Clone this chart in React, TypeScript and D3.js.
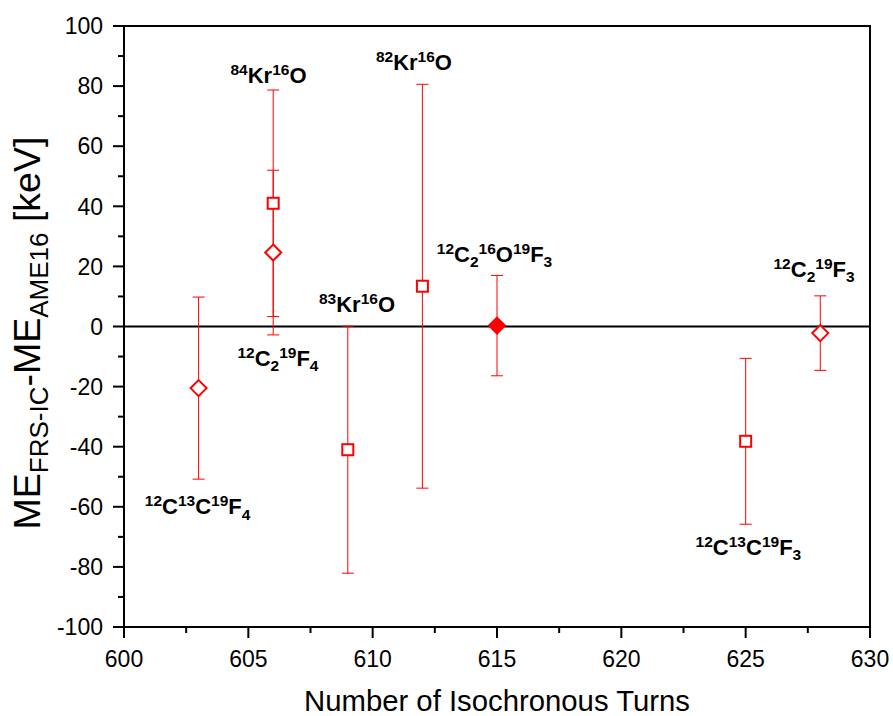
import React from "react";
import * as d3 from "d3";

const turns = [603, 606, 606, 609, 612, 615, 625, 628];
const values = [-20.5, 41.0, 24.6, -41.0, 13.4, 0.3, -38.2, -2.2];
const errors = [30.3, 37.7, 27.4, 41.1, 67.2, 16.7, 27.6, 12.4];
const shapes = ["diamond", "square", "diamond", "square", "square", "diamondFilled", "square", "diamond"];

type Seg = { t: string; s: "n" | "sup" | "sub" };
const labelTexts: Seg[][] = [
  [{ t: "84", s: "sup" }, { t: "Kr", s: "n" }, { t: "16", s: "sup" }, { t: "O", s: "n" }],
  [{ t: "82", s: "sup" }, { t: "Kr", s: "n" }, { t: "16", s: "sup" }, { t: "O", s: "n" }],
  [{ t: "83", s: "sup" }, { t: "Kr", s: "n" }, { t: "16", s: "sup" }, { t: "O", s: "n" }],
  [{ t: "12", s: "sup" }, { t: "C", s: "n" }, { t: "2", s: "sub" }, { t: "19", s: "sup" }, { t: "F", s: "n" }, { t: "4", s: "sub" }],
  [{ t: "12", s: "sup" }, { t: "C", s: "n" }, { t: "2", s: "sub" }, { t: "16", s: "sup" }, { t: "O", s: "n" }, { t: "19", s: "sup" }, { t: "F", s: "n" }, { t: "3", s: "sub" }],
  [{ t: "12", s: "sup" }, { t: "C", s: "n" }, { t: "2", s: "sub" }, { t: "19", s: "sup" }, { t: "F", s: "n" }, { t: "3", s: "sub" }],
  [{ t: "12", s: "sup" }, { t: "C", s: "n" }, { t: "13", s: "sup" }, { t: "C", s: "n" }, { t: "19", s: "sup" }, { t: "F", s: "n" }, { t: "3", s: "sub" }],
  [{ t: "12", s: "sup" }, { t: "C", s: "n" }, { t: "13", s: "sup" }, { t: "C", s: "n" }, { t: "19", s: "sup" }, { t: "F", s: "n" }, { t: "4", s: "sub" }],
];
const labelX = [605.81, 611.66, 609.37, 606.19, 614.9, 627.75, 625.11, 602.96];
const labelY = [81.0, 85.4, 4.9, -13.1, 21.6, 16.6, -76.0, -62.4];

const xTicks = [600, 605, 610, 615, 620, 625, 630];
const yTicks = [-100, -80, -60, -40, -20, 0, 20, 40, 60, 80, 100];

const W = 893;
const H = 716;
const FONT = "'Liberation Sans', Arial, Helvetica, sans-serif";
const RED = "#ff0000";

function Rich({ segs, x, y, size, small, supShift, subShift, anchor, weight, transform }: any) {
  let cur = 0;
  return (
    <text x={x} y={y} textAnchor={anchor} fontFamily={FONT} fontWeight={weight} fontSize={size} fill="#000" transform={transform}>
      {segs.map((sg: Seg, i: number) => {
        const target = sg.s === "sup" ? supShift : sg.s === "sub" ? subShift : 0;
        const dy = target - cur;
        cur = target;
        return (
          <tspan key={i} dy={dy} fontSize={sg.s === "n" ? size : small}>
            {sg.t}
          </tspan>
        );
      })}
    </text>
  );
}

export default function App() {
  const x = d3.scaleLinear().domain([600, 630]).range([124, 870]);
  const y = d3.scaleLinear().domain([-100, 100]).range([627, 26]);
  const xMinor = d3.range(600, 630.01, 2.5);
  const yMinor = d3.range(-100, 100.01, 10);
  const cap = 6;

  return (
    <svg width={W} height={H} style={{ position: "absolute", left: 0, top: 0, background: "#fff" }}>
      <rect x={0} y={0} width={W} height={H} fill="#fff" />
      {/* zero line */}
      <line x1={x(600)} x2={x(630)} y1={y(0)} y2={y(0)} stroke="#000" strokeWidth={2} />

      {/* error bars */}
      {turns.map((t, i) => {
        const cx = x(t);
        const y1 = y(values[i] + errors[i]);
        const y2 = y(values[i] - errors[i]);
        return (
          <g key={"e" + i} stroke={RED} strokeWidth={1}>
            <line x1={cx} x2={cx} y1={y1} y2={y2} />
            <line x1={cx - cap} x2={cx + cap} y1={y1} y2={y1} />
            <line x1={cx - cap} x2={cx + cap} y1={y2} y2={y2} />
          </g>
        );
      })}

      {/* markers */}
      {turns.map((t, i) => {
        const cx = x(t);
        const cy = y(values[i]);
        const sh = shapes[i];
        if (sh === "square") {
          return <rect key={"m" + i} x={cx - 5.5} y={cy - 5.5} width={11} height={11} fill="#fff" stroke={RED} strokeWidth={2} />;
        }
        const r = 8;
        const d = `M${cx},${cy - r}L${cx + r},${cy}L${cx},${cy + r}L${cx - r},${cy}Z`;
        return <path key={"m" + i} d={d} fill={sh === "diamondFilled" ? RED : "#fff"} stroke={RED} strokeWidth={2} />;
      })}

      {/* frame */}
      <rect x={x(600)} y={y(100)} width={x(630) - x(600)} height={y(-100) - y(100)} fill="none" stroke="#000" strokeWidth={2} />

      {/* y ticks */}
      {yMinor.map((v, i) => {
        const major = Math.abs(v % 20) < 1e-6;
        return <line key={"ym" + i} x1={x(600)} x2={x(600) - (major ? 11 : 6)} y1={y(v)} y2={y(v)} stroke="#000" strokeWidth={2} />;
      })}
      {yTicks.map((v) => (
        <text key={"yt" + v} x={103} y={y(v)} dy="0.36em" textAnchor="end" fontFamily={FONT} fontSize={23} fill="#000">
          {v}
        </text>
      ))}

      {/* x ticks */}
      {xMinor.map((v, i) => {
        const major = Math.abs(v % 5) < 1e-6;
        return <line key={"xm" + i} x1={x(v)} x2={x(v)} y1={y(-100)} y2={y(-100) + (major ? 11 : 6)} stroke="#000" strokeWidth={2} />;
      })}
      {xTicks.map((v) => (
        <text key={"xt" + v} x={x(v)} y={667} textAnchor="middle" fontFamily={FONT} fontSize={23} fill="#000">
          {v}
        </text>
      ))}

      {/* axis titles */}
      <text x={(x(600) + x(630)) / 2} y={711} textAnchor="middle" fontFamily={FONT} fontSize={29.3} fill="#000">
        Number of Isochronous Turns
      </text>
      <Rich
        segs={[
          { t: "ME", s: "n" },
          { t: "FRS-IC", s: "sub" },
          { t: "-ME", s: "n" },
          { t: "AME16", s: "sub" },
          { t: " [keV]", s: "n" },
        ]}
        x={0}
        y={0}
        size={37.5}
        small={26}
        supShift={-12}
        subShift={8}
        anchor="middle"
        weight="normal"
        transform={`translate(40,333) rotate(-90)`}
      />

      {/* labels */}
      {labelTexts.map((segs, i) => (
        <Rich
          key={"l" + i}
          segs={segs}
          x={x(labelX[i])}
          y={y(labelY[i])}
          size={22}
          small={15.5}
          supShift={-8}
          subShift={5.5}
          anchor="middle"
          weight="bold"
        />
      ))}
    </svg>
  );
}
